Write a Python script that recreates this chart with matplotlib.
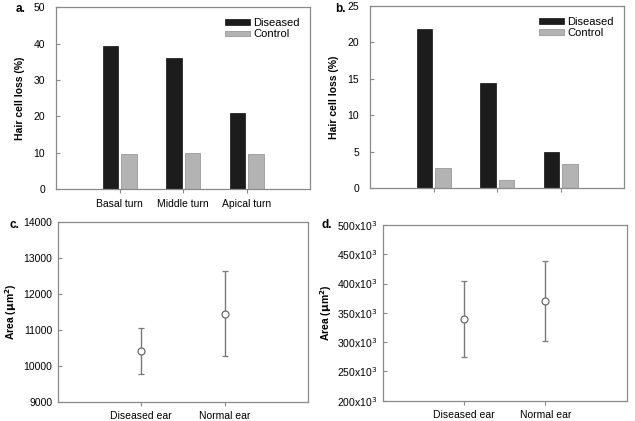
import matplotlib
matplotlib.use("Agg")
import numpy as np
from matplotlib import pyplot as plt

plt.rcParams['font.family'] = ['Liberation Sans', 'DejaVu Sans']
plt.rcParams['font.size'] = 7.5

# panel a / b data
turns = ["Basal turn", "Middle turn", "Apical turn"]
a_diseased = [39.4, 36.0, 21.0]
a_control = [9.8, 10.1, 9.6]
b_diseased = [21.9, 14.4, 5.0]
b_control = [2.8, 1.2, 3.3]

# panel c / d data
ears = ["Diseased ear", "Normal ear"]
c_mean = [10400, 11440]
c_low = [9760, 10270]
c_high = [11050, 12620]
d_mean = [339, 371]   # x10^3
d_low = [275, 302]
d_high = [404, 439]

dark = "#1c1c1c"
light = "#b3b3b3"
axcol = "#8a8a8a"

fig = plt.figure(figsize=(6.35, 4.21), dpi=100)

def style(ax, ypad):
    for s in ax.spines.values():
        s.set_color(axcol)
        s.set_linewidth(0.9)
    ax.tick_params(axis='y', direction='in', length=3, color=axcol, labelsize=7.5, pad=ypad)
    ax.tick_params(axis='x', direction='out', length=3, color=axcol, labelsize=7.5, pad=4)

def bars(ax, dis, con, ymax, yticks, labels):
    x = np.arange(1, len(dis) + 1)
    ax.bar(x - 0.14, dis, 0.245, color=dark, edgecolor="#111111", linewidth=0.5, label="Diseased")
    ax.bar(x + 0.15, con, 0.245, color=light, edgecolor="#8c8c8c", linewidth=0.5, label="Control")
    ax.set_xlim(0, 4)
    ax.set_ylim(0, ymax)
    ax.set_yticks(yticks)
    ax.set_xticks(x)
    ax.set_xticklabels(labels)
    ax.set_ylabel("Hair cell loss (%)", fontweight='bold', labelpad=6)
    style(ax, 8)
    ax.legend(loc='upper right', bbox_to_anchor=(0.99, 0.985), frameon=False,
              handlelength=2.2, handleheight=0.45, handletextpad=0.3,
              labelspacing=0.15, fontsize=8, borderaxespad=0.3)

ax_a = fig.add_axes([0.0882, 0.5504, 0.4, 0.4323])
bars(ax_a, a_diseased, a_control, 50, [0, 10, 20, 30, 40, 50], turns)

ax_b = fig.add_axes([0.5827, 0.5527, 0.4, 0.4330])
bars(ax_b, b_diseased, b_control, 25, [0, 5, 10, 15, 20, 25], ["", "", ""])

def points(ax, mean, low, high):
    x = np.arange(1, len(mean) + 1)
    mean = np.array(mean)
    err = [mean - np.array(low), np.array(high) - mean]
    ax.errorbar(x, mean, yerr=err, fmt='o', color="#7a7a7a", ecolor="#7a7a7a",
                elinewidth=1.0, capsize=2, capthick=1.0, markersize=5,
                markerfacecolor='white', markeredgecolor="#6a6a6a", markeredgewidth=0.9)
    ax.set_xlim(0, 3)
    ax.set_xticks(x)
    ax.set_xticklabels(ears)
    ax.set_ylabel(r"Area ($\mathbf{\mu}$m$^\mathbf{2}$)", fontweight='bold', labelpad=3)
    style(ax, 4)

ax_c = fig.add_axes([0.0913, 0.0459, 0.3937, 0.4276])
points(ax_c, c_mean, c_low, c_high)
ax_c.set_ylim(9000, 14000)
ax_c.set_yticks(np.arange(9000, 14001, 1000))

ax_d = fig.add_axes([0.6027, 0.0482, 0.3843, 0.4173])
points(ax_d, d_mean, d_low, d_high)
ax_d.set_ylim(200, 500)
dt = np.arange(200, 501, 50)
ax_d.set_yticks(dt)
ax_d.set_yticklabels([r"%dx10$^3$" % v for v in dt])
ax_d.yaxis.labelpad = 2

for lab, (px, py) in zip(["a.", "b.", "c.", "d."], [(16, 9), (335, 9), (9, 225), (321, 225)]):
    fig.text(px / 635, 1 - py / 421, lab, fontweight='bold', fontsize=8.5, va='center', ha='left')

fig.savefig("out.png", dpi=100, facecolor='white')
